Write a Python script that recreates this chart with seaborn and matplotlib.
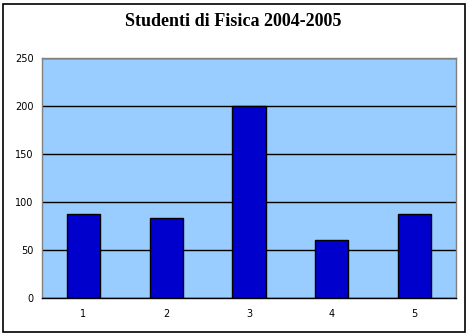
import matplotlib
matplotlib.use("Agg")
import matplotlib.pyplot as plt
import seaborn as sns
import numpy as np
import pandas as pd
from matplotlib.patches import Rectangle

categories = ["1", "2", "3", "4", "5"]
values = [87, 83, 200, 60, 88]
yticks = [0, 50, 100, 150, 200, 250]
title = "Studenti di Fisica 2004-2005"

df = pd.DataFrame({"cat": categories, "val": values})

sns.set_style("white")
plt.rcParams["font.family"] = ["DejaVu Sans"]
plt.rcParams["text.color"] = "black"
plt.rcParams["xtick.color"] = "black"
plt.rcParams["ytick.color"] = "black"

fig = plt.figure(figsize=(4.68, 3.35), dpi=100)
fig.patch.set_facecolor("white")
ax = fig.add_axes([42/468, 1-298/335, 414/468, 240/335])
ax.set_facecolor("#99CCFF")

sns.barplot(data=df, x="cat", y="val", ax=ax, color="#0000CC", width=0.4,
            edgecolor="black", linewidth=1.0, saturation=1)

ax.set_ylim(0, 250)
ax.set_xlim(-0.5, 4.5)
ax.set_yticks(yticks)
ax.yaxis.grid(True, color="black", linewidth=1.0)
ax.set_axisbelow(True)
ax.set_xlabel("")
ax.set_ylabel("")

ax.set_xticks(np.arange(-0.5, 5, 1), minor=True)
ax.tick_params(axis="x", which="major", length=0, labelsize=7, pad=8, labelcolor="black")
ax.tick_params(axis="x", which="minor", length=4, width=1, color="black", direction="out")
ax.tick_params(axis="y", which="major", length=4, width=1, color="black", direction="out",
               labelsize=7, pad=2, labelcolor="black")

for s in ["left", "top", "right"]:
    ax.spines[s].set_color("#808080")
    ax.spines[s].set_linewidth(1.0)
ax.spines["bottom"].set_color("black")
ax.spines["bottom"].set_linewidth(1.0)

fig.text(233/468, 1-22/335, title, ha="center", va="center", color="black",
         fontfamily="Liberation Serif", fontweight="bold", fontsize=13)

fig.patches.append(Rectangle((3/468, 3/335), 462/468, 328/335, transform=fig.transFigure,
                             fill=False, edgecolor="black", linewidth=1.2))

fig.savefig("out.png", dpi=100)
